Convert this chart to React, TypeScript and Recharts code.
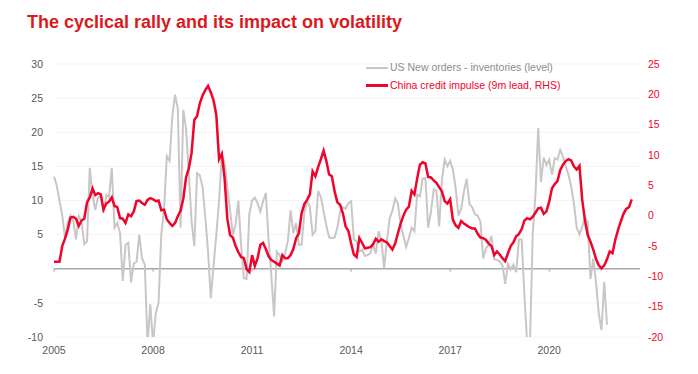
import { CartesianGrid, Line, LineChart, ReferenceLine, XAxis, YAxis } from "recharts";

// monthly, starting Jan 2005
const usOrders = [
  13.5, 12.2, 10.0, 7.8, 4.6, 6.8, 7.8, 7.0, 4.3, 7.7, 7.0, 3.6,
  4.0, 14.8, 10.8, 8.6, 10.4, 10.8, 8.3, 10.8, 10.5, 14.8, 6.0, 6.7,
  5.2, -1.8, 3.5, 3.8, -2.0, 0.8, 1.0, 5.0, 1.5, 0.6, -11.0, -5.2,
  -11.0, -6.5, -5.0, 5.0, 8.7, 16.5, 15.8, 22.3, 25.5, 23.5, 6.0, 23.3,
  20.5, 14.0, 7.0, 3.3, 14.0, 13.7, 12.0, 7.5, 2.5, -4.3, 0.5, 5.0,
  10.0, 16.7, 15.5, 12.0, 8.5, 5.0, 6.5, 10.0, 3.5, -1.4, -1.5, 8.0,
  10.0, 10.4, 9.6, 8.4, 9.9, 11.1, 4.2, -1.0, -7.0, 2.5, 2.0, 1.1,
  2.3, 4.0, 8.6, 5.2, 6.7, 3.5, 3.5, 8.2, 10.0, 9.0, 5.0, 5.5,
  11.4, 10.5, 8.4, 6.3, 4.6, 4.5, 4.6, 6.0, 8.4, 9.0, 8.8, 9.6,
  9.9, 4.3, 4.0, 2.5, 2.8, 1.9, 2.0, 2.3, 3.5, 2.2, 5.5, 4.0,
  0.1, 4.0, 7.4, 8.5, 10.3, 9.5, 6.5, 4.8, 3.2, 4.5, 6.0, 5.5,
  10.9, 10.6, 13.2, 13.3, 6.0, 8.3, 11.6, 11.4, 6.2, 13.0, 16.0, 15.0,
  15.8, 14.5, 11.8, 7.8, 8.8, 11.3, 13.2, 9.5, 9.0, 8.0, 7.8, 6.9,
  1.5, 3.0, 3.5, 4.8, 1.4, 1.3, 1.1, 0.5, -2.2, 0.7, -0.1, 0.6,
  -0.5, 4.3, 4.3, -4.0, -11.0, -11.0, 5.0, 10.9, 20.6, 12.7, 16.3, 15.2,
  16.0, 13.8, 16.2, 16.0, 17.4, 16.5, 15.0, 13.8, 12.0, 9.5, 6.0, 5.0,
  6.2, 7.5, 6.8, -1.5, 1.5, -2.0, -6.5, -9.0, -1.9, -8.2,
];

const chinaImpulse = [
  -7.6, -7.6, -7.6, -5.0, -3.8, -2.3, -0.3, -0.2, -0.5, -1.7, -0.8, -0.5,
  2.2, 3.0, 4.5, 3.4, 3.7, 3.5, 1.0, 2.0, 2.3, 3.0, 1.6, 1.4,
  -0.4, -0.5, -1.2, 0.2, -0.1, 0.7, 2.4, 2.5, 2.1, 1.8, 2.6, 2.9,
  2.7, 2.4, 2.5, 0.9, 1.0, -0.6, -1.2, -1.7, -1.2, -0.1, 0.8, 2.8,
  6.3, 7.8, 10.3, 15.8, 16.4, 18.5, 19.8, 20.7, 21.4, 20.3, 19.0, 16.6,
  9.3, 10.2, 6.2, -0.5, -3.2, -3.6, -5.0, -6.0, -6.8, -7.0, -8.8, -9.3,
  -6.5, -8.3, -7.0, -4.8, -4.5, -5.5, -6.7, -7.3, -7.6, -7.9, -8.2, -6.5,
  -7.0, -7.0, -6.5, -5.5, -3.7, -2.9, 0.4, 1.9, 2.6, 3.5, 7.3, 6.5,
  8.0, 9.3, 10.7, 9.0, 6.8, 6.5, 4.0, 2.2, 1.8, 0.4, -1.8, -2.5,
  -4.6, -6.4, -6.8, -3.7, -4.5, -5.4, -5.3, -5.2, -4.7, -3.8, -4.3, -3.9,
  -4.2, -4.4, -5.0, -5.6, -4.6, -2.9, -1.3, 0.0, 1.0, 1.5, 4.1, 3.5,
  6.1, 8.4, 8.8, 8.6, 6.4, 6.3, 5.8, 5.4, 4.7, 4.0, 2.4, 2.0,
  2.7, -0.7, -1.6, -2.0, -0.9, -1.3, -1.6, -1.9, -2.1, -2.1, -3.0, -3.6,
  -3.7, -4.0, -4.6, -5.0, -6.5, -5.9, -6.4, -7.0, -7.5, -6.2, -5.0, -4.4,
  -3.4, -3.0, -2.2, -0.8, -0.4, -0.6, -0.2, 0.5, 1.2, 1.3, 0.3, 0.7,
  2.3, 4.5, 5.2, 5.7, 7.5, 8.4, 9.0, 9.3, 9.1, 8.1, 7.6, 8.2,
  2.6, -0.8, -3.2, -4.3, -5.6, -7.1, -8.2, -8.7, -8.2, -7.2, -5.9, -6.2,
  -4.0, -2.4, -1.0, 0.3, 1.1, 1.4, 2.7,
];

const startYear = 2005;
const yearTicks = [2005, 2008, 2011, 2014, 2017, 2020];
const leftTicks = [-10, -5, 5, 10, 15, 20, 25, 30];
const rightTicks = [-20, -15, -10, -5, 0, 5, 10, 15, 20, 25];

const usLabel = "US New orders - inventories (level)";
const chinaLabel = "China credit impulse (9m lead, RHS)";

const font = '"Liberation Sans", Arial, sans-serif';
const red = "#f0042c";
const grey = "#cac6c6";

const data = chinaImpulse.map((value, index) => ({
  m: index,
  us: index < usOrders.length ? usOrders[index] : null,
  china: value,
}));

const monthTicks = yearTicks.map((year) => (year - startYear) * 12);

export default function App() {
  return (
    <div style={{ position: "absolute", left: 0, top: 0, width: 698, height: 374, background: "#fff", fontFamily: font }}>
      <div
        style={{
          position: "absolute",
          left: 27,
          top: 13,
          fontSize: 18,
          lineHeight: "18px",
          fontWeight: 700,
          color: "#d91a20",
          whiteSpace: "nowrap",
        }}
      >
        The cyclical rally and its impact on volatility
      </div>

      <LineChart width={698} height={374} data={data} margin={{ top: 64, right: 0, bottom: 7, left: 0 }}>
        <CartesianGrid yAxisId="left" vertical={false} stroke="#f4f4f4" />
        <XAxis
          dataKey="m"
          type="number"
          domain={[0, 213]}
          ticks={monthTicks}
          tickFormatter={(m: number) => String(startYear + m / 12)}
          axisLine={false}
          tickLine={false}
          tickMargin={4}
          height={30}
          tick={{ fill: "#595959", fontSize: 10.5, fontFamily: font }}
        />
        <YAxis
          yAxisId="left"
          domain={[-10, 30]}
          ticks={leftTicks}
          allowDataOverflow
          axisLine={false}
          tickLine={false}
          width={54}
          tickMargin={5}
          tick={{ fill: "#595959", fontSize: 10.5, fontFamily: font }}
        />
        <YAxis
          yAxisId="right"
          orientation="right"
          domain={[-20, 25]}
          ticks={rightTicks}
          allowDataOverflow
          axisLine={false}
          tickLine={false}
          width={58}
          tickMargin={2}
          tick={{ fill: red, fontSize: 10.5, fontFamily: font }}
        />
        <ReferenceLine yAxisId="left" y={0} stroke="#a8a8a8" strokeWidth={1.5} />
        {monthTicks.map((m) => (
          <ReferenceLine
            key={m}
            yAxisId="left"
            segment={[{ x: m, y: 0 }, { x: m, y: -0.45 }]}
            stroke="#a8a8a8"
            strokeWidth={1}
          />
        ))}
        <Line
          yAxisId="left"
          dataKey="us"
          type="linear"
          stroke={grey}
          strokeWidth={2}
          dot={false}
          connectNulls={false}
          isAnimationActive={false}
        />
        <Line
          yAxisId="right"
          dataKey="china"
          type="linear"
          stroke={red}
          strokeWidth={2.5}
          dot={false}
          isAnimationActive={false}
        />
      </LineChart>

      <div style={{ position: "absolute", left: 366, top: 59, fontSize: 10.5, lineHeight: "17.5px" }}>
        <div style={{ display: "flex", alignItems: "center", color: "#8c8c8c" }}>
          <span style={{ display: "inline-block", width: 22, height: 2, background: grey, marginRight: 2 }} />
          {usLabel}
        </div>
        <div style={{ display: "flex", alignItems: "center", color: red }}>
          <span style={{ display: "inline-block", width: 22, height: 2.5, background: red, marginRight: 2 }} />
          {chinaLabel}
        </div>
      </div>
    </div>
  );
}
